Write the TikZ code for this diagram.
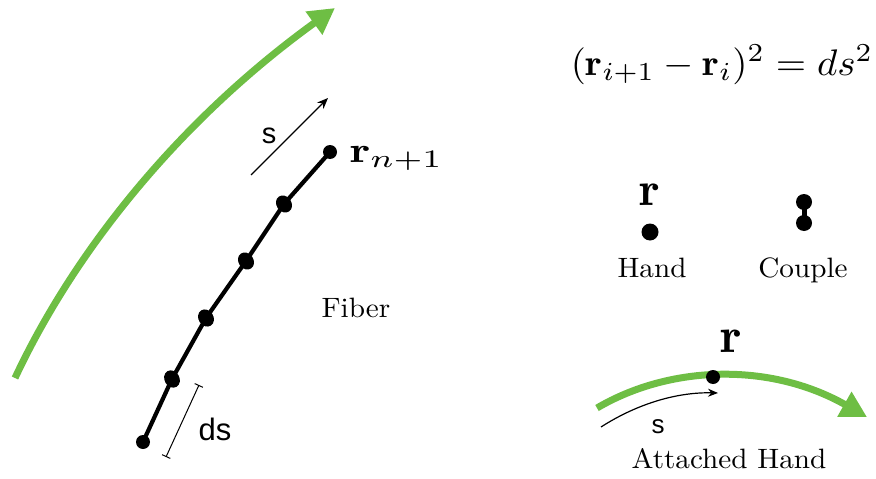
\documentclass[tikz,border=0pt]{standalone}
\usepackage{graphicx}
\usepackage{fontspec}
\newfontfamily\sansf{Liberation Sans}
\usetikzlibrary{arrows.meta,shapes.geometric}
\definecolor{fgreen}{RGB}{110,190,68}
\newcommand{\lbltext}[1]{\scalebox{2.92}[2.8]{#1}}
\begin{document}
\begin{tikzpicture}[x=1pt,y=-1pt,
  bead/.style={circle,fill=black,inner sep=0pt,minimum size=14pt},
  bigbead/.style={ellipse,fill=black,inner sep=0pt,minimum width=18pt,minimum height=15pt},
  lbl/.style={font=\fontsize{10}{12}\selectfont,inner sep=0pt,anchor=base},
  sanslbl/.style={font=\sansf\fontsize{29}{30}\selectfont,inner sep=0pt,anchor=base},
  greenarrow/.style={draw=fgreen,line width=7pt,-{Triangle[length=26pt,width=27pt]}},
  chain/.style={line width=4.2pt},
  thinarrow/.style={line width=1.4pt,-{Stealth[length=11pt,width=9pt]}}]
\useasboundingbox (0,0) rectangle (876,479);

% big green arrow
\coordinate (g0) at (15,378);
\coordinate (g1) at (335,8);
\draw[greenarrow] (g0) .. controls (75,250) and (180,120) .. (g1);

% fiber chain
\node[bead] (b1) at (143,442) {};
\node[bigbead,rotate=-60] (b2) at (172,379) {};
\node[bigbead,rotate=-57] (b3) at (206,318) {};
\node[bigbead,rotate=-55] (b4) at (246,261) {};
\node[bigbead,rotate=-55] (b5) at (284,204) {};
\node[bead] (b6) at (330,152) {};
\draw[chain] (b1.center) -- (b2.center) -- (b3.center) -- (b4.center) -- (b5.center) -- (b6.center);

% s arrow
\coordinate (s0) at (251,175);
\coordinate (s1) at (328,98);
\draw[thinarrow] (s0) -- (s1);
\node[sanslbl] (slbl) at (269,143) {s};

% r_{n+1}
\node[lbl,anchor=base west] (rn) at (350,162) {\scalebox{4.7}[3.6]{$\mathbf{r}_{n+1}$}};

% ds bracket
\coordinate (d1) at (199,385);
\coordinate (d2) at (166,457);
\draw[line width=1pt,{Bar[width=9pt]}-{Bar[width=9pt]}] (d1) -- (d2);
\node[sanslbl,font=\sansf\fontsize{31}{32}\selectfont] (ds) at (215,440) {ds};

% Fiber
\node[lbl] (fiber) at (356,317) {\lbltext{Fiber}};

% equation
\node[lbl] (eq) at (722,75) {\scalebox{3.9}[3.7]{$(\mathbf{r}_{i+1}-\mathbf{r}_i)^2=ds^2$}};

% Hand
\node[circle,fill=black,inner sep=0pt,minimum size=17pt] (hdot) at (650,232) {};
\node[lbl] (hr) at (650,205) {\scalebox{4.8}{$\mathbf{r}$}};
\node[lbl] (hand) at (652,277) {\lbltext{Hand}};

% Couple
\node[circle,fill=black,inner sep=0pt,minimum size=16pt] (c1) at (804,202) {};
\node[circle,fill=black,inner sep=0pt,minimum size=16pt] (c2) at (804,223) {};
\draw[line width=5pt] (c1.center) -- (c2.center);
\node[lbl] (couple) at (803,277) {\lbltext{Couple}};

% Attached hand
\coordinate (a0) at (597,408);
\coordinate (a1) at (867,417);
\draw[greenarrow] (a0) .. controls (670,365) and (770,362) .. (a1);
\node[circle,fill=black,inner sep=0pt,minimum size=14pt] (adot) at (713,377) {};
\node[lbl] (ar) at (731,352) {\scalebox{5}{$\mathbf{r}$}};
\coordinate (t0) at (601,427);
\coordinate (t1) at (718,393);
\draw[line width=1.2pt,-{Stealth[length=10pt,width=8pt]}] (t0) .. controls (640,402) and (680,392) .. (t1);
\node[sanslbl,font=\sansf\fontsize{26}{28}\selectfont] (as) at (658,433) {s};
\node[lbl] (att) at (729,468) {\lbltext{Attached Hand}};
\end{tikzpicture}
\end{document}
